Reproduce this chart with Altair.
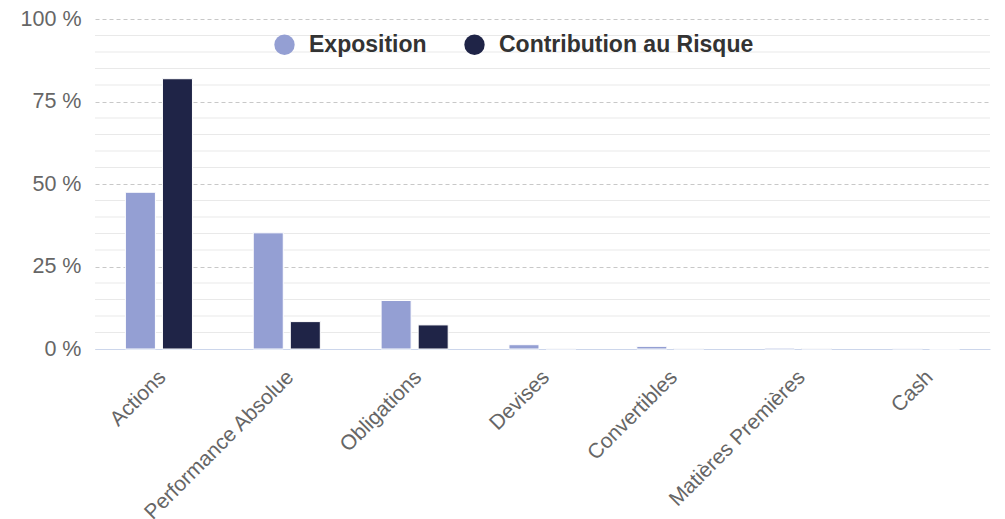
import altair as alt
import pandas as pd

categories = ["Actions", "Performance Absolue", "Obligations", "Devises",
              "Convertibles", "Matières Premières", "Cash"]
exposition = [47.5, 35.2, 14.7, 1.3, 0.8, 0.3, 0.2]
contribution = [81.9, 8.3, 7.3, 0.1, 0.1, 0.1, 0.0]
series = ["Exposition", "Contribution au Risque"]
colors = ["#949fd3", "#1f2447"]
major_ticks = [0, 25, 50, 75, 100]
minor_ticks = [5, 10, 15, 20, 30, 35, 40, 45, 55, 60, 65, 70, 80, 85, 90, 95]

rows = []
for c, e, r in zip(categories, exposition, contribution):
    rows.append({"cat": c, "serie": series[0], "val": e})
    rows.append({"cat": c, "serie": series[1], "val": r})
df = pd.DataFrame(rows)
minor_df = pd.DataFrame({"v": minor_ticks})

FONT = "Liberation Sans"
yscale = alt.Scale(domain=[0, 100], nice=False)
yaxis = alt.Axis(title=None, values=major_ticks, grid=True,
                 gridDash=[4, 3], gridColor="#c8c8c8",
                 labelExpr="datum.value + ' %'", labelFontSize=21.5,
                 labelColor="#666666", labelFont=FONT,
                 ticks=False, domain=False, labelPadding=14)

minor = alt.Chart(minor_df).mark_rule(color="#e9e9e9", strokeWidth=1.2).encode(
    y=alt.Y("v:Q", scale=yscale, axis=yaxis)
)

bars = alt.Chart(df).mark_bar(stroke="white", strokeWidth=1).encode(
    x=alt.X("cat:N", sort=categories,
            scale=alt.Scale(paddingInner=0, paddingOuter=0),
            axis=alt.Axis(title=None, labelAngle=-45, labelFontSize=21,
                          labelColor="#666666", labelFont=FONT,
                          ticks=False, domainColor="#ccd6eb", domainWidth=1,
                          labelPadding=17, labelOffset=-4, labelLimit=400)),
    xOffset=alt.XOffset("serie:N", sort=series,
                        scale=alt.Scale(paddingInner=0.19, paddingOuter=0.82)),
    y=alt.Y("val:Q", scale=yscale, axis=yaxis),
    color=alt.Color("serie:N", sort=series,
                    scale=alt.Scale(domain=series, range=colors),
                    legend=alt.Legend(title=None, orient="none", direction="horizontal",
                                      legendX=178, legendY=14,
                                      symbolType="circle", symbolSize=415,
                                      symbolStrokeWidth=0, symbolOpacity=1,
                                      labelFontSize=23, labelFontWeight="bold",
                                      labelColor="#333333", labelFont=FONT,
                                      labelLimit=500,
                                      labelOffset=13, columnPadding=36)),
)

chart = alt.layer(minor, bars).properties(
    width=895, height=330,
    padding={"left": 87, "top": 11, "right": 7, "bottom": 170},
    autosize=alt.AutoSizeParams(type="none"),
).configure_view(stroke=None).configure_axis(gridWidth=1)

chart.save("out.html", embed_options={"renderer": "svg", "actions": False})
